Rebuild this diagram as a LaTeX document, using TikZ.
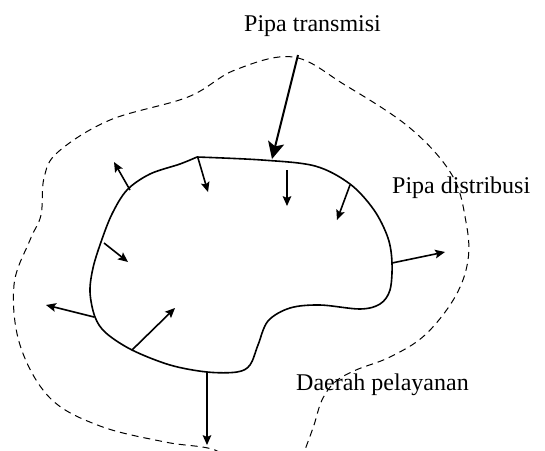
\documentclass[tikz,border=0pt]{standalone}
\usepackage{fontspec}
\setmainfont{Liberation Serif}
\usetikzlibrary{calc}
\tikzset{
  pipe/.style={line width=1.6pt,line join=round},
  area/.style={line width=1pt,dash pattern=on 7pt off 5pt},
  flow/.style={line width=1.6pt,shorten >=5pt},
  feed/.style={line width=2pt,shorten >=8pt},
  lbl/.style={font=\fontsize{24}{24}\selectfont,anchor=base west,inner sep=0pt}}
% filled barbed head at #1 pointing away from #2: length #3, half angle #4, inset #5
\newcommand{\barbhead}[5]{%
  \fill ($(#1)!#3!#4:(#2)$) -- (#1) -- ($(#1)!#3!-#4:(#2)$) -- ($(#1)!#5!(#2)$) -- cycle;}
\begin{document}
\begin{tikzpicture}[x=1pt,y=-1pt]
\useasboundingbox (0,0) rectangle (545,450);
\clip (0,0) rectangle (545,450);

% service area boundary
\draw[area] plot[smooth,tension=0.6] coordinates {
  (297,470) (306,447) (314,425) (322,400) (335,382) (356,370) (390,357)
  (425,335) (455,297) (468,260) (466,222) (452,175) (410,128) (345,85)
  (293,57) (235,70) (188,97) (110,120) (58,152) (44,178) (41,215)
  (30,240) (14,285) (20,345) (50,398) (100,426) (165,442) (215,450) (240,470)};

% distribution pipe loop (starts and ends at its top-left corner)
\draw[pipe] plot[smooth,tension=0.55] coordinates {
  (197,157) (262,160) (315,166) (350,184) (374,210) (388,238) (392,263)
  (390,290) (380,304) (360,309) (320,305) (290,308) (268,321) (258,345)
  (250,365) (237,372) (207,372) (170,365) (132,350) (106,333) (95,317)
  (90,292) (93,268) (101,242) (112,214) (127,190) (150,174) (180,164) (197,157)};

% branch points on the loop and free ends of the flows
\coordinate (t0) at (298,55);   \coordinate (t1) at (272,159);
\coordinate (a1) at (130,190);  \coordinate (b1) at (114,162);
\coordinate (a2) at (198,158);  \coordinate (b2) at (208,192);
\coordinate (a3) at (287,170);  \coordinate (b3) at (287,206);
\coordinate (a4) at (350,185);  \coordinate (b4) at (337,220);
\coordinate (a5) at (104,243);  \coordinate (b5) at (128,262);
\coordinate (a6) at (392,263);  \coordinate (b6) at (445,252);
\coordinate (a7) at (94,317);   \coordinate (b7) at (46,305);
\coordinate (a8) at (132,350);  \coordinate (b8) at (175,308);
\coordinate (a9) at (207,372);  \coordinate (b9) at (207,445);

% transmission main
\draw[feed] (t0) -- (t1);
\barbhead{t1}{t0}{19pt}{26}{13pt}

% outflows from the distribution loop
\foreach \i in {1,...,9} {
  \draw[flow] (a\i) -- (b\i);
  \barbhead{b\i}{a\i}{11pt}{24}{8pt}
}

% labels
\node[lbl] (trans) at (244,31) {Pipa transmisi};
\node[lbl] (dist) at (392,193) {Pipa distribusi};
\node[lbl] (serv) at (296,390) {Daerah pelayanan};
\end{tikzpicture}
\end{document}
